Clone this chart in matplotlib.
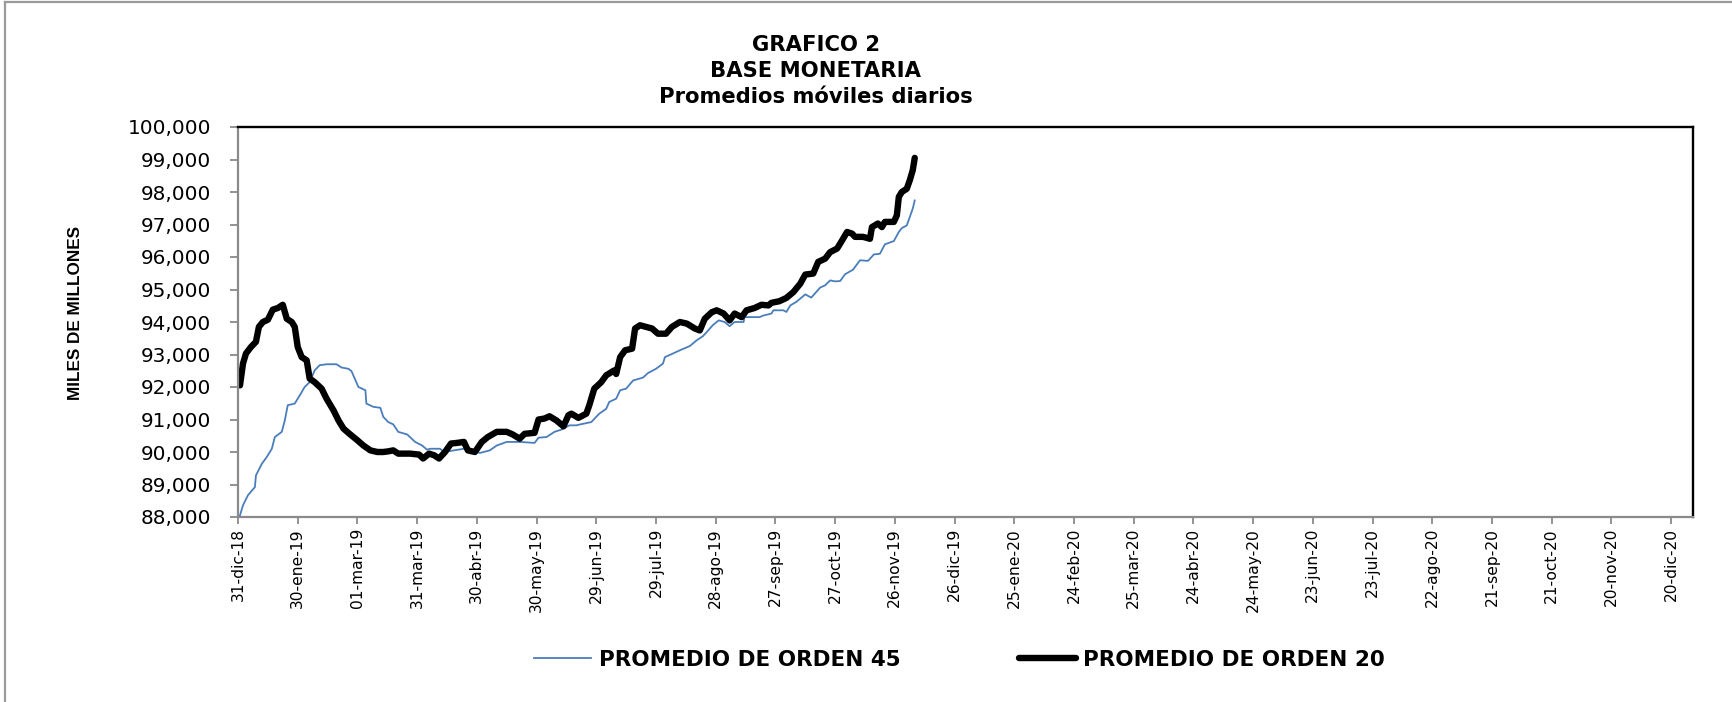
import matplotlib
matplotlib.use("Agg")
import matplotlib.pyplot as plt
from matplotlib.lines import Line2D
import pandas as pd

# ---------------- data ----------------
START = "2018-12-31"
END = "2020-12-31"

days_20 = [1, 2.5, 4, 6.5, 9, 10.5, 12.5, 15, 17.5, 20, 22.5, 24.5, 27, 28.5, 30, 32,
           34.5, 36, 38.5, 42, 44.5, 48, 50.5, 53, 56, 60, 63, 66.5, 70, 73, 75.5, 78,
           80.5, 86.5, 91, 93, 96, 98.5, 101, 104, 107, 110, 113.5, 115.5, 119, 122.5,
           125.5, 130, 135, 138, 141.5, 144, 149, 151, 154, 156.5, 160, 163.5, 166,
           167.5, 171, 175, 176.5, 179, 182.5, 185, 189, 190, 192, 194.5, 198, 199.5,
           202, 205, 208, 211, 215, 218, 222, 225.5, 229.5, 232, 234.5, 238, 240.5,
           244, 247, 249.5, 253, 255.5, 259.5, 263, 266.5, 268, 272, 275.5, 279, 282.5,
           285, 289, 291.5, 295, 297.5, 301, 303.5, 306, 308.5, 310, 314, 317.5, 318.5,
           321.5, 323.5, 325, 329.5, 331, 332, 333.5, 336, 337.5, 339, 340]
orden_20 = [92050, 92720, 93030, 93230, 93390, 93850, 94000, 94070, 94380, 94430, 94530,
            94100, 94000, 93850, 93230, 92920, 92820, 92260, 92150, 91950, 91640, 91280,
            90970, 90720, 90560, 90360, 90200, 90050, 90000, 90000, 90020, 90050, 89950,
            89950, 89920, 89800, 89950, 89900, 89800, 90000, 90260, 90280, 90310, 90050,
            90000, 90310, 90460, 90620, 90620, 90540, 90410, 90560, 90590, 91000, 91030,
            91100, 90970, 90790, 91130, 91180, 91050, 91180, 91440, 91950, 92150, 92360,
            92510, 92400, 92920, 93130, 93180, 93800, 93900, 93850, 93800, 93640, 93640,
            93850, 94000, 93950, 93800, 93740, 94100, 94300, 94360, 94260, 94050, 94260,
            94150, 94360, 94430, 94530, 94510, 94590, 94640, 94740, 94920, 95180, 95460,
            95490, 95850, 95950, 96150, 96260, 96510, 96770, 96720, 96620, 96620, 96560,
            96920, 97030, 96920, 97080, 97080, 97280, 97850, 98000, 98100, 98360, 98670,
            99050]

days_45 = [1, 2.5, 5, 8.5, 9, 12, 14.5, 17, 18.5, 22, 23.5, 25, 28.5, 31, 33.5, 36, 38.5,
           41, 44.5, 49.5, 52, 55.5, 57, 60.5, 64, 64.5, 68, 71.5, 73, 75.5, 78, 80.5, 85,
           89, 92.5, 95, 96.5, 101.5, 103.5, 113.5, 118, 121.5, 126.5, 130, 135, 141.5,
           149, 151, 155, 159, 162.5, 166.5, 170, 172, 177.5, 181.5, 185, 186.5, 190, 192,
           195, 198.5, 203.5, 206, 210, 213.5, 214.5, 218.5, 222, 227, 230.5, 233.5,
           235.5, 238.5, 241.5, 244.5, 247, 249.5, 254, 254.5, 262, 264, 268, 269, 274,
           275.5, 277.5, 280.5, 282.5, 285, 288, 292.5, 295, 297.5, 300, 302.5, 305, 309,
           312.5, 316.5, 319.5, 322.5, 325, 329.5, 332, 333.5, 336, 337.5, 339, 340]
orden_45 = [88050, 88360, 88670, 88920, 89280, 89640, 89850, 90100, 90460, 90620, 90970,
            91440, 91490, 91740, 92000, 92150, 92510, 92670, 92700, 92700, 92600, 92560,
            92490, 92000, 91900, 91490, 91390, 91360, 91080, 90920, 90850, 90620, 90540,
            90310, 90200, 90070, 90100, 90100, 90000, 90100, 90050, 89970, 90050, 90200,
            90310, 90310, 90280, 90440, 90460, 90620, 90690, 90820, 90820, 90850, 90920,
            91180, 91330, 91540, 91640, 91900, 91950, 92200, 92290, 92430, 92560, 92720,
            92920, 93030, 93130, 93260, 93440, 93560, 93690, 93900, 94050, 94000, 93870,
            94000, 94000, 94150, 94150, 94200, 94260, 94360, 94360, 94310, 94510, 94620,
            94720, 94850, 94750, 95060, 95130, 95280, 95250, 95260, 95470, 95610, 95900,
            95880, 96080, 96100, 96390, 96490, 96770, 96890, 96970, 97230, 97490, 97740]

x_tick_labels = ["31-dic-18", "30-ene-19", "01-mar-19", "31-mar-19", "30-abr-19",
                 "30-may-19", "29-jun-19", "29-jul-19", "28-ago-19", "27-sep-19",
                 "27-oct-19", "26-nov-19", "26-dic-19", "25-ene-20", "24-feb-20",
                 "25-mar-20", "24-abr-20", "24-may-20", "23-jun-20", "23-jul-20",
                 "22-ago-20", "21-sep-20", "21-oct-20", "20-nov-20", "20-dic-20"]
y_ticks = [88000, 89000, 90000, 91000, 92000, 93000, 94000, 95000, 96000, 97000,
           98000, 99000, 100000]
y_tick_labels = ["88,000", "89,000", "90,000", "91,000", "92,000", "93,000", "94,000",
                 "95,000", "96,000", "97,000", "98,000", "99,000", "100,000"]

title_lines = ["GRAFICO 2", "BASE MONETARIA", "Promedios móviles diarios"]
y_label = "MILES DE MILLONES"
label_45 = "PROMEDIO DE ORDEN 45"
label_20 = "PROMEDIO DE ORDEN 20"

# ---------------- figure ----------------
W, H = 1733, 702
fig = plt.figure(figsize=(W / 100, H / 100), dpi=100)
fig.patch.set_facecolor("white")

ax = fig.add_axes([238 / W, (H - 517) / H, (1693 - 238) / W, (517 - 127) / H])

start = pd.Timestamp(START)
x20 = start + pd.to_timedelta(days_20, unit="D")
x45 = start + pd.to_timedelta(days_45, unit="D")

l45, = ax.plot(x45, orden_45, color="#4a7ebb", lw=1.3, solid_joinstyle="round")
l20, = ax.plot(x20, orden_20, color="black", lw=4.6, solid_joinstyle="round",
               solid_capstyle="round")

ax.set_xlim(start, pd.Timestamp(END))
ax.set_ylim(88000, 100000)

tick_dates = [start + pd.Timedelta(days=30 * k) for k in range(len(x_tick_labels))]
ax.set_xticks(tick_dates)
ax.set_xticklabels(x_tick_labels, rotation=90, fontsize=11.2, family="DejaVu Sans")
ax.set_yticks(y_ticks)
ax.set_yticklabels(y_tick_labels, fontsize=14.4, family="DejaVu Sans")

gray = "#8a8a8a"
ax.tick_params(axis="y", direction="out", length=6, width=1.3, color=gray, pad=13.5)
ax.tick_params(axis="x", direction="out", length=5, width=1.3, color=gray, pad=3)
for s in ("left", "bottom"):
    ax.spines[s].set_color(gray)
    ax.spines[s].set_linewidth(1.6)
for s in ("top", "right"):
    ax.spines[s].set_color("black")
    ax.spines[s].set_linewidth(1.7)

# title
for txt, yc in zip(title_lines, [45, 71, 97]):
    fig.text(816 / W, 1 - yc / H, txt, ha="center", va="center", fontsize=15.2,
             fontweight="bold", family="DejaVu Sans")

# y label
fig.text(76 / W, 1 - 313 / H, y_label, rotation=90, ha="center", va="center",
         fontsize=12.3, fontweight="bold", family=["Liberation Sans", "DejaVu Sans"])

# legend
fig.legend(handles=[l45, l20], labels=[label_45, label_20], loc="center left",
           bbox_to_anchor=(534 / W, 1 - 660 / H), ncol=2, frameon=False,
           prop={"family": "DejaVu Sans", "weight": "bold", "size": 15.5},
           handlelength=2.67, handletextpad=0.33, columnspacing=5.5,
           borderpad=0, borderaxespad=0)

# outer chart-area border (left and top)
fig.add_artist(Line2D([5 / W, 5 / W], [0, 1 - 2 / H], transform=fig.transFigure,
                      color="#9a9a9a", lw=1.6))
fig.add_artist(Line2D([5 / W, 1], [1 - 2 / H, 1 - 2 / H], transform=fig.transFigure,
                      color="#9a9a9a", lw=1.6))

fig.savefig("out.png", dpi=100)
